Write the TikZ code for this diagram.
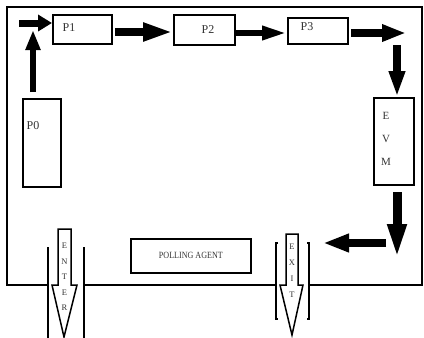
\documentclass[tikz,border=0pt]{standalone}
\usepackage{fontspec}
\setmainfont{Liberation Serif}
\usetikzlibrary{arrows.meta,calc}
\tikzset{
  box/.style={draw=black, line width=1.8pt, rectangle, inner sep=0pt, anchor=north west},
  lbl/.style={inner sep=0pt, font=\fontsize{12}{13}\selectfont, text=black!80},
  small/.style={inner sep=0pt, text=black!80},
  frame/.style={line width=1.8pt, line join=miter},
  fat/.style={line width=#1},
}
\begin{document}
\begin{tikzpicture}[x=1pt,y=-1pt]
\useasboundingbox (0,0) rectangle (424,338);
% outer frame
\draw[frame] (48,285) -- (7,285) -- (7,7) -- (422,7) -- (422,285) -- (309,285);
\draw[frame] (84,285) -- (276,285);
% boxes
\node[box, minimum width=38pt, minimum height=88pt] (p0) at (22,98) {};
\node[box, minimum width=59pt, minimum height=29pt] (p1) at (52,14) {};
\node[box, minimum width=61pt, minimum height=30pt] (p2) at (173,14) {};
\node[box, minimum width=60pt, minimum height=26pt] (p3) at (287,17) {};
\node[box, minimum width=40pt, minimum height=87pt] (evm) at (373,97) {};
\node[box, minimum width=120pt, minimum height=34pt] (pa) at (130,238) {};
% texts
\node[lbl] (t0) at (33,126) {P0};
\node[lbl] (t1) at (69,28) {P1};
\node[lbl] (t2) at (208,30) {P2};
\node[lbl] (t3) at (307,27) {P3};
\node[lbl, align=center, font=\fontsize{11}{23}\selectfont] (tevm) at (386,139) {E\\V\\M};
\node[inner sep=0pt, text=black!80, font=\fontsize{9.5}{10}\selectfont, xscale=0.85] (tpa) at ($(pa.center)+(0,-1)$) {POLLING AGENT};
% thick arrows
\coordinate (a0s) at (33,92);
\coordinate (a0e) at (33,30);
\draw[fat=6pt, -{Triangle[length=20pt,width=14pt]}] (a0s) -- (a0e);
\coordinate (b0s) at (19,23);
\draw[fat=7pt, -{Triangle[length=14pt,width=16pt]}] (b0s) -- (p1.west |- b0s);
\coordinate (a1s) at (115,32);
\draw[fat=8pt, -{Triangle[length=30pt,width=17pt]}] (a1s) -- (p2.west |- a1s);
\coordinate (a2s) at (235,33);
\draw[fat=6pt, -{Triangle[length=25pt,width=13pt]}] (a2s) -- (p3.west |- a2s);
\coordinate (a3s) at (351,33);
\coordinate (a3e) at (406,33);
\draw[fat=8pt, -{Triangle[length=24pt,width=16pt]}] (a3s) -- (a3e);
\coordinate (a4s) at (397,45);
\draw[fat=8pt, -{Triangle[length=26pt,width=15pt]}] (a4s) -- (evm.north -| a4s);
\coordinate (a5s) at (397,192);
\coordinate (a5e) at (397,260);
\draw[fat=9pt, -{Triangle[length=36pt,width=17pt]}] (a5s) -- (a5e);
\coordinate (a6s) at (386,243);
\coordinate (a6e) at (323,243);
\draw[fat=8pt, -{Triangle[length=26pt,width=17pt]}] (a6s) -- (a6e);
% ENTER arrow
\draw[line width=1.5pt, fill=white, line join=miter] (58,229) -- (71,229) -- (71,285) -- (77,285) -- (64,337) -- (52,285) -- (58,285) -- cycle;
\draw[line width=1.5pt] (48,247) -- (48,338);
\draw[line width=1.5pt] (84,247) -- (84,338);
\node[small, align=center, font=\fontsize{8.5}{15.5}\selectfont] (tenter) at (64.5,277) {E\\N\\T\\E\\R};
% EXIT arrow
\draw[line width=1.5pt, fill=white, line join=miter] (286,234) -- (298,234) -- (298,285) -- (303,285) -- (292,335) -- (280,285) -- (286,285) -- cycle;
\draw[line width=1.3pt] (278,243) -- (276,243) -- (276,319) -- (278,319);
\draw[line width=1.3pt] (307,243) -- (309,243) -- (309,319) -- (307,319);
\node[small, align=center, font=\fontsize{8.5}{16}\selectfont] (texit) at (292,271) {E\\X\\I\\T};
\end{tikzpicture}
\end{document}
